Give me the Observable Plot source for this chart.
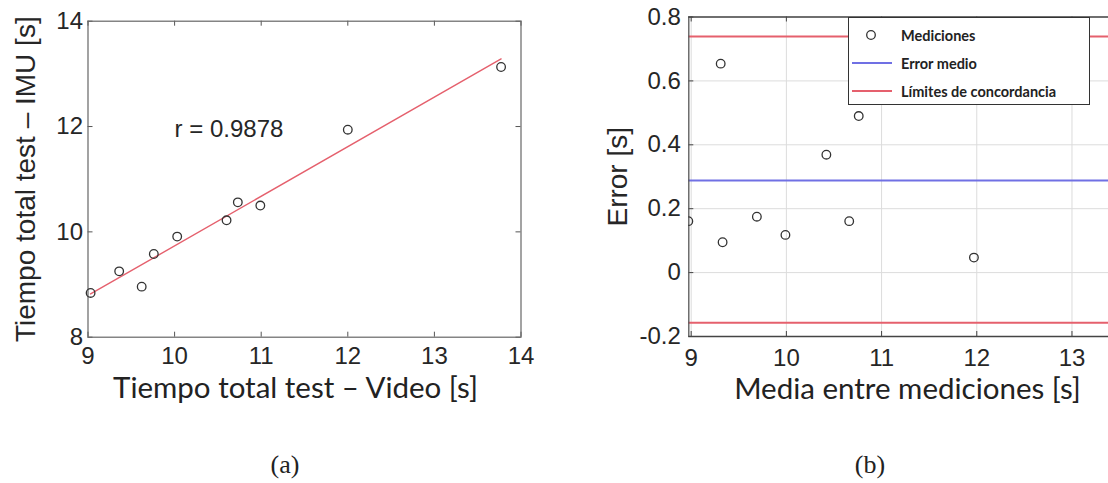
<!DOCTYPE html>
<html>
<head>
<meta charset="utf-8">
<script src="https://cdn.jsdelivr.net/npm/d3@7"></script>
<script src="https://cdn.jsdelivr.net/npm/@observablehq/plot@0.6"></script>
<style>
  html, body { margin: 0; padding: 0; background: #fff; overflow: hidden; }
  #root { position: relative; width: 1108px; height: 483px; overflow: hidden; background: #fff; }
  .panel { position: absolute; top: 0; }
  .caption { position: absolute; font-family: "Liberation Serif", "DejaVu Serif", serif; font-size: 26px; color: #222; transform: translate(-50%, -50%); white-space: nowrap; }
  #legend { position: absolute; background: #fff; border: 1.5px solid #333; box-sizing: border-box;
            font-family: Lato, "Open Sans", sans-serif; font-weight: bold; font-size: 14.5px; color: #222; }
  #legend .row { position: absolute; left: 0; height: 20px; display: flex; align-items: center; }
</style>
</head>
<body>
<div id="root">
  <div id="panelA" class="panel" style="left:0px"></div>
  <div id="panelB" class="panel" style="left:560px"></div>
  <div id="legend" style="left:848px; top:17px; width:242px; height:88px"></div>
  <div class="caption" style="left:285px; top:465px">(a)</div>
  <div class="caption" style="left:870px; top:465px">(b)</div>
</div>
<script>
// ---------- data ----------
const videoTime = [9.03, 9.36, 9.62, 9.76, 10.03, 10.60, 10.73, 10.99, 12.00, 13.77];
const imuTime   = [8.84, 9.25, 8.96, 9.58, 9.91, 10.22, 10.56, 10.50, 11.94, 13.13];
const meanTime  = [8.97, 9.31, 9.33, 9.69, 9.99, 10.42, 10.66, 10.76, 11.97, 13.45];
const errorVal  = [0.161, 0.654, 0.095, 0.175, 0.118, 0.369, 0.161, 0.490, 0.047, 0.64];
const meanError = 0.288;
const upperLimit = 0.739;
const lowerLimit = -0.157;
const xTicksA = [9, 10, 11, 12, 13, 14];
const yTicksA = [8, 10, 12, 14];
const xTicksB = [9, 10, 11, 12, 13];
const yTicksB = [-0.2, 0, 0.2, 0.4, 0.6, 0.8];
const yTickLabelsB = ["-0.2", "0", "0.2", "0.4", "0.6", "0.8"];
const rLabel = {text: "r = 0.9878", x: 10.0, y: 11.95};
const xLabelA = "Tiempo total test – Video [s]";
const yLabelA = "Tiempo total test – IMU [s]";
const xLabelB = "Media entre mediciones [s]";
const yLabelB = "Error [s]";
const legendLabels = ["Mediciones", "Error medio", "Límites de concordancia"];

const RED = "#e5606d", BLUE = "#7070e4", INK = "#262626";
const TICK = 5;

// ---------- panel (a) ----------
const dataA = videoTime.map((v, i) => ({video: v, imu: imuTime[i]}));
const A = {w: 560, h: 410, ml: 87.5, mr: 39.5, mt: 20.7, mb: 73.3};
const iwA = A.w - A.ml - A.mr, ihA = A.h - A.mt - A.mb;
const plotA = Plot.plot({
  width: A.w, height: A.h,
  marginLeft: A.ml, marginRight: A.mr, marginTop: A.mt, marginBottom: A.mb,
  style: {fontFamily: "'Liberation Sans', Arial, sans-serif", color: INK, background: "transparent", overflow: "visible"},
  x: {domain: [9, 14]},
  y: {domain: [8, 14]},
  marks: [
    Plot.axisX(xTicksA, {anchor: "bottom", tickSize: 0, tickPadding: 10, fontSize: 24, label: null, tickFormat: d => String(d)}),
    Plot.axisY(yTicksA, {anchor: "left", tickSize: 0, tickPadding: 5, fontSize: 24, label: null, tickFormat: d => String(d)}),
    Plot.tickX(xTicksA, {x: d => d, insetTop: ihA - TICK, stroke: "#555"}),
    Plot.tickX(xTicksA, {x: d => d, insetBottom: ihA - TICK, stroke: "#555"}),
    Plot.tickY(yTicksA, {y: d => d, insetRight: iwA - TICK, stroke: "#555"}),
    Plot.tickY(yTicksA, {y: d => d, insetLeft: iwA - TICK, stroke: "#555"}),
    Plot.frame({stroke: "#666", strokeWidth: 1.2}),
    Plot.linearRegressionY(dataA, {x: "video", y: "imu", stroke: RED, strokeWidth: 1.4, ci: 0}),
    Plot.dot(dataA, {x: "video", y: "imu", r: 4.3, stroke: "#333", strokeWidth: 1.3}),
    Plot.text([rLabel], {x: "x", y: "y", text: "text", textAnchor: "start", fontSize: 24, fill: INK}),
    Plot.text([yLabelA], {text: d => d, frameAnchor: "left", textAnchor: "middle", rotate: -90, dx: -61.7, fontSize: 28, fill: INK}),
    Plot.text([xLabelA], {text: d => d, frameAnchor: "bottom", textAnchor: "middle", dx: -9, dy: 51, fontSize: 29.5,
      fontFamily: "Lato, 'Open Sans', sans-serif", fill: "#222", lineAnchor: "middle"})
  ]
});
document.getElementById("panelA").appendChild(plotA);

// ---------- panel (b) ----------
const dataB = meanTime.map((m, i) => ({mean: m, err: errorVal[i]}));
const B = {w: 548, h: 410, ml: 128.3, mr: 0, mt: 16.5, mb: 74};
const iwB = B.w - B.ml - B.mr, ihB = B.h - B.mt - B.mb;
const xDomB = [8.975, 8.975 + iwB / 95.2];
const plotB = Plot.plot({
  width: B.w, height: B.h,
  marginLeft: B.ml, marginRight: B.mr, marginTop: B.mt, marginBottom: B.mb,
  style: {fontFamily: "'Liberation Sans', Arial, sans-serif", color: INK, background: "transparent", overflow: "visible"},
  x: {domain: xDomB},
  y: {domain: [-0.2, 0.8]},
  marks: [
    Plot.gridX(xTicksB, {stroke: "#dcdcdc", strokeOpacity: 1}),
    Plot.gridY(yTicksB, {stroke: "#dcdcdc", strokeOpacity: 1}),
    Plot.axisX(xTicksB, {anchor: "bottom", tickSize: 0, tickPadding: 12, fontSize: 24, label: null, tickFormat: d => String(d)}),
    Plot.axisY(yTicksB, {anchor: "left", tickSize: 0, tickPadding: 8, fontSize: 24, label: null,
      tickFormat: d => yTickLabelsB[yTicksB.indexOf(d)]}),
    Plot.tickX(xTicksB, {x: d => d, insetTop: ihB - TICK, stroke: "#444"}),
    Plot.tickX(xTicksB, {x: d => d, insetBottom: ihB - TICK, stroke: "#444"}),
    Plot.tickY(yTicksB, {y: d => d, insetRight: iwB - TICK, stroke: "#444"}),
    Plot.ruleY([upperLimit, lowerLimit], {stroke: RED, strokeWidth: 2}),
    Plot.ruleY([meanError], {stroke: BLUE, strokeWidth: 2}),
    Plot.ruleX([xDomB[0]], {stroke: "#555", strokeWidth: 1.3}),
    Plot.ruleY([-0.2, 0.8], {stroke: "#444", strokeWidth: 1.3}),
    Plot.dot(dataB, {x: "mean", y: "err", r: 4.3, stroke: "#333", strokeWidth: 1.3, clip: true}),
    Plot.text([yLabelB], {text: d => d, frameAnchor: "left", textAnchor: "middle", rotate: -90, dx: -71, fontSize: 28, fill: INK}),
    Plot.text([xLabelB], {text: d => d, frameAnchor: "bottom", textAnchor: "middle", dx: 907 - 560 - (B.ml + iwB / 2), dy: 53, fontSize: 29.5,
      fontFamily: "Lato, 'Open Sans', sans-serif", fill: "#222", lineAnchor: "middle"})
  ]
});
document.getElementById("panelB").appendChild(plotB);

// ---------- legend (b) ----------
const legend = document.getElementById("legend");
const rowTops = [7, 35, 63];
const swatch = [
  `<circle cx="22" cy="10" r="4.3" fill="none" stroke="#333" stroke-width="1.3"/>`,
  `<line x1="3" x2="43" y1="10" y2="10" stroke="${BLUE}" stroke-width="2"/>`,
  `<line x1="3" x2="43" y1="10" y2="10" stroke="${RED}" stroke-width="2"/>`
];
legendLabels.forEach((lab, i) => {
  const row = document.createElement("div");
  row.className = "row";
  row.style.top = rowTops[i] + "px";
  row.innerHTML = `<svg width="52" height="20" style="display:block">${swatch[i]}</svg><span>${lab}</span>`;
  legend.appendChild(row);
});
</script>
</body>
</html>
